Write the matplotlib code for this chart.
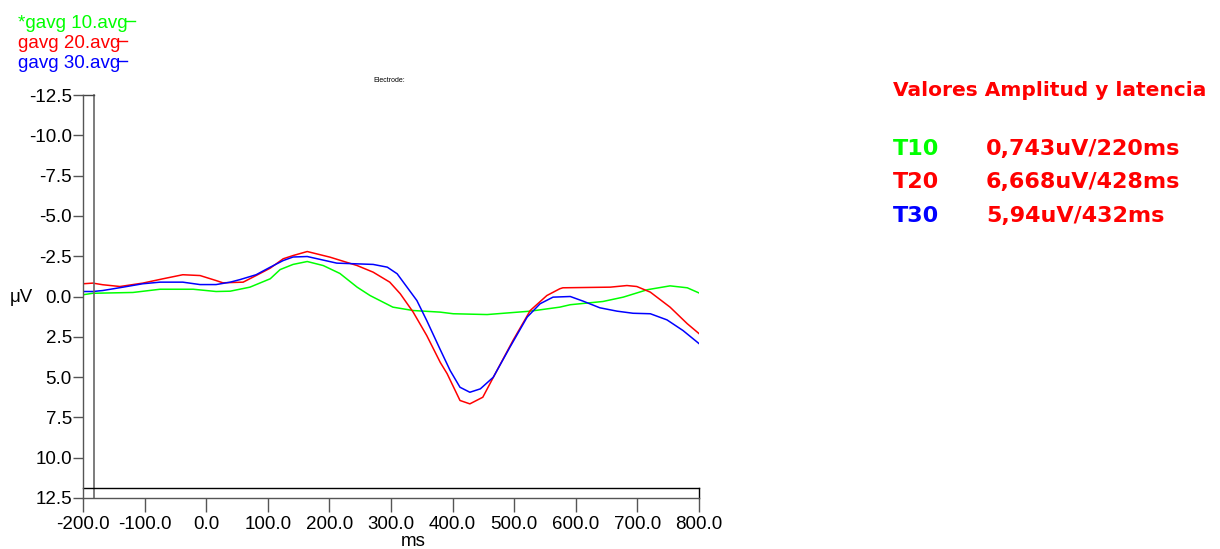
import matplotlib
matplotlib.use("Agg")
import matplotlib.pyplot as plt
from matplotlib.lines import Line2D

plt.rcParams['font.family'] = ['Liberation Sans', 'DejaVu Sans']

# grand averages, latency (ms) vs amplitude (uV)
green_t = [-200, -184, -119, -75, -21, 16, 39, 71, 104, 120,
           141, 164, 190, 217, 245, 266, 303, 336, 380, 401,
           456, 526, 574, 591, 644, 677, 716, 753, 781, 800]
green_v = [-0.11, -0.20, -0.25, -0.45, -0.45, -0.31, -0.33, -0.58, -1.10, -1.67,
           -1.99, -2.17, -1.92, -1.43, -0.58, -0.06, 0.66, 0.87, 0.97, 1.07,
           1.12, 0.91, 0.66, 0.51, 0.31, 0.04, -0.42, -0.66, -0.54, -0.22]

red_t = [-200, -184, -168, -140, -103, -70, -38, -10, 16, 27,
         60, 81, 104, 125, 141, 164, 201, 245, 271, 298,
         315, 336, 358, 380, 391, 412, 428, 449, 472, 498,
         526, 553, 574, 579, 656, 683, 699, 721, 753, 781, 800]
red_v = [-0.79, -0.83, -0.73, -0.62, -0.83, -1.10, -1.35, -1.30, -0.99, -0.85,
         -0.89, -1.30, -1.76, -2.34, -2.54, -2.79, -2.44, -1.92, -1.51, -0.89,
         -0.17, 0.97, 2.42, 4.09, 4.78, 6.45, 6.66, 6.25, 4.59, 2.73,
         0.87, -0.06, -0.48, -0.54, -0.58, -0.68, -0.62, -0.27, 0.66, 1.69, 2.30]

blue_t = [-200, -184, -168, -135, -103, -75, -38, -10, 16, 39,
          55, 81, 104, 125, 141, 164, 212, 271, 294, 310,
          326, 342, 358, 380, 396, 412, 428, 445, 466, 493,
          521, 542, 563, 591, 612, 639, 667, 693, 721, 748, 774, 800]
blue_v = [-0.31, -0.31, -0.37, -0.58, -0.79, -0.89, -0.89, -0.74, -0.74, -0.89,
          -1.05, -1.35, -1.82, -2.23, -2.45, -2.48, -2.07, -1.99, -1.82, -1.41,
          -0.58, 0.25, 1.49, 3.30, 4.59, 5.63, 5.94, 5.73, 5.01, 3.15,
          1.28, 0.45, 0.04, 0.0, 0.29, 0.70, 0.91, 1.04, 1.07, 1.45, 2.11, 2.92]

labels = ["*gavg 10.avg", "gavg 20.avg", "gavg 30.avg"]
colors = ["#00ff00", "#ff0000", "#0000ff"]

x_ticks = [-200, -100, 0, 100, 200, 300, 400, 500, 600, 700, 800]
y_ticks = [-12.5, -10.0, -7.5, -5.0, -2.5, 0.0, 2.5, 5.0, 7.5, 10.0, 12.5]

tags = ["T10", "T20", "T30"]
peaks = ["0,743uV/220ms", "6,668uV/428ms", "5,94uV/432ms"]

W, H = 1220, 549
fig = plt.figure(figsize=(W / 100, H / 100), dpi=100)
ax = fig.add_axes([83 / W, 1 - 498 / H, 616 / W, 403 / H])

for t, v, c in zip([green_t, red_t, blue_t], [green_v, red_v, blue_v], colors):
    ax.plot(t, v, color=c, lw=1.1)

ax.set_xlim(-200, 800)
ax.set_ylim(12.5, -12.5)
ax.set_xticks(x_ticks)
ax.set_xticklabels([f"{x:.1f}" for x in x_ticks])
ax.set_yticks(y_ticks)
ax.set_yticklabels([f"{y:.1f}" for y in y_ticks])
ax.tick_params(axis='x', length=10, width=1, color='#555555', labelsize=13.5, pad=3)
ax.tick_params(axis='y', length=7, width=1, color='#555555', labelsize=13.5, pad=1)
for s in ['top', 'right']:
    ax.spines[s].set_visible(False)
for s in ['left', 'bottom']:
    ax.spines[s].set_color('#555555')
    ax.spines[s].set_linewidth(1.0)

# inner frame lines of the EEG viewer
fx = 11 / 616
fy = 10 / 403
ax.plot([fx, fx], [0, 1], transform=ax.transAxes, color='#666666', lw=1.2, clip_on=False)
ax.plot([0, fx], [1, 1], transform=ax.transAxes, color='#444444', lw=1.0, clip_on=False)
ax.plot([0, 1], [fy, fy], transform=ax.transAxes, color='black', lw=1.0, clip_on=False)
ax.plot([1, 1], [0, fy], transform=ax.transAxes, color='black', lw=1.0, clip_on=False)

fig.text(10 / W, 1 - 297 / H, "μV", fontsize=13.5, va='center', ha='left')
fig.text(413 / W, 1 - 541 / H, "ms", fontsize=13.5, va='center', ha='center')
fig.text(389 / W, 1 - 80 / H, "Electrode:", fontsize=5, va='center', ha='center')

# file labels with the short trailing dash
renderer = fig.canvas.get_renderer()
for i, (lab, c) in enumerate(zip(labels, colors)):
    base = 27.5 + i * 20.4
    txt = fig.text(18 / W, 1 - base / H, lab, color=c, fontsize=13.5, va='baseline')
    bb = txt.get_window_extent(renderer)
    yd = 1 - (base - 7) / H
    fig.add_artist(Line2D([(bb.x1 - 3) / W, (bb.x1 + 7) / W], [yd, yd], color=c, lw=1.0))

fig.text(893 / W, 1 - 95.7 / H, "Valores Amplitud y latencia", color='#ff0000',
         fontsize=14.5, fontweight='bold', family='DejaVu Sans', va='baseline')
for i, (tag, peak, c) in enumerate(zip(tags, peaks, colors)):
    yb = 1 - (155 + i * 33.3) / H
    fig.text(893 / W, yb, tag, color=c, fontsize=16, fontweight='bold',
             family='DejaVu Sans', va='baseline')
    fig.text(986 / W, yb, peak, color='#ff0000', fontsize=16, fontweight='bold',
             family='DejaVu Sans', va='baseline')

fig.savefig("out.png", dpi=100)
